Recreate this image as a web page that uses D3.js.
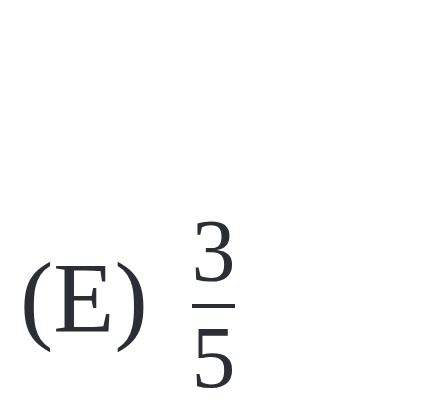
<!DOCTYPE html>
<html>
<head>
<meta charset="utf-8">
<script src="https://cdn.jsdelivr.net/npm/d3@7"></script>
<style>
html,body{margin:0;padding:0;background:#fff;}
svg{display:block;}
</style>
</head>
<body>
<svg id="c" width="427" height="414"></svg>
<script>
const optionLabel = ["(E)"];
const numerator = ["3"];
const denominator = ["5"];

const svg = d3.select("#c");
const ink = "#2b2e35";
const font = "'Times New Roman', 'Liberation Serif', Times, serif";

// option label
svg.append("text")
  .data(optionLabel)
  .attr("x", 20)
  .attr("y", 331)
  .attr("font-family", font)
  .attr("font-size", 100)
  .attr("fill", ink)
  .text(d => d);

// fraction
const cx = 213.5;
svg.append("text").data(numerator)
  .attr("x", cx).attr("y", 280)
  .attr("text-anchor", "middle")
  .attr("font-family", font).attr("font-size", 88)
  .attr("fill", ink).text(d => d);

svg.append("rect")
  .attr("x", 192).attr("y", 304)
  .attr("width", 43).attr("height", 4)
  .attr("fill", ink);

svg.append("text").data(denominator)
  .attr("x", cx).attr("y", 387)
  .attr("text-anchor", "middle")
  .attr("font-family", font).attr("font-size", 88)
  .attr("fill", ink).text(d => d);
</script>
</body>
</html>
